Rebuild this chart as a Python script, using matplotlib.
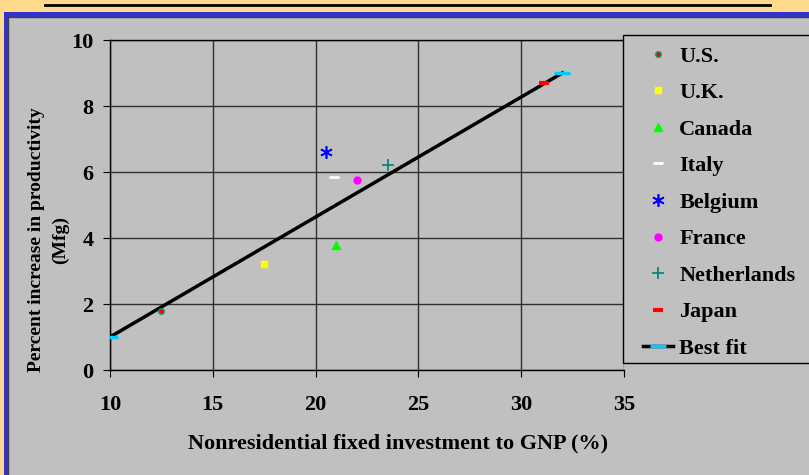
import numpy as np
import matplotlib.pyplot as plt
from matplotlib.patches import Rectangle
from matplotlib.lines import Line2D

# investment share (%) vs productivity growth (%), manufacturing
countries = ['U.S.', 'U.K.', 'Canada', 'Italy', 'Belgium', 'France', 'Netherlands', 'Japan']
invest = [12.5, 17.5, 21.0, 20.9, 20.5, 22.0, 23.5, 31.1]
productivity = [1.8, 3.2, 3.8, 5.85, 6.6, 5.75, 6.2, 8.7]

fit_x = [10.0, 32.0]
fit_y = [1.0, 9.0]

xticks = [10, 15, 20, 25, 30, 35]
yticks = [0, 2, 4, 6, 8, 10]

# marker style for each country: (marker, size, face, edge, edge width)
styles = [
    ('o', 4, '#FF0000', '#00A070', 1.0),
    ('s', 5, '#FFFF00', '#FFFF00', 1.0),
    ('^', 6, '#00FF00', '#00FF00', 1.0),
    ('_', 7, '#FFFFFF', '#FFFFFF', 2.0),
    ((6, 2, 0), 9, '#0000FF', '#0000FF', 1.2),
    ('o', 5, '#FF00FF', '#FF00FF', 1.0),
    ('+', 9, '#008080', '#008080', 1.2),
    ('_', 7, '#FF0000', '#FF0000', 3.0),
]

W, H = 809, 475
fig = plt.figure(figsize=(W / 100, H / 100), dpi=100)
fig.patch.set_facecolor('#C0C0C0')

def fx(px):
    return px / W

def fy(py):
    return 1 - py / H

# slide frame: orange band on top, blue border, black rule
fig.patches.append(Rectangle((0, fy(12)), 1, 12 / H, transform=fig.transFigure,
                             facecolor='#FFD98C', edgecolor='none', zorder=0))
fig.patches.append(Rectangle((0, 0), fx(4), fy(12), transform=fig.transFigure,
                             facecolor='#FFD98C', edgecolor='none', zorder=0))
fig.patches.append(Rectangle((fx(4), fy(17)), 1, 5 / H, transform=fig.transFigure,
                             facecolor='#3333CC', edgecolor='none', zorder=0))
fig.patches.append(Rectangle((fx(4), 0), 4 / W, fy(12), transform=fig.transFigure,
                             facecolor='#3333CC', edgecolor='none', zorder=0))
fig.lines.append(Line2D([fx(8), 1], [fy(17), fy(17)], transform=fig.transFigure,
                        color='#404040', lw=1))
fig.lines.append(Line2D([fx(8), fx(8)], [0, fy(17)], transform=fig.transFigure,
                        color='#404040', lw=1))
fig.lines.append(Line2D([fx(45), fx(770)], [fy(5), fy(5)], transform=fig.transFigure,
                        color='black', lw=2))

ax = fig.add_axes([fx(110), fy(370), fx(624) - fx(110), fy(40) - fy(370)])
ax.set_facecolor('#C0C0C0')

for c, x, y, st in zip(countries, invest, productivity, styles):
    m, s, fc, ec, mew = st
    ax.plot([x], [y], linestyle='none', marker=m, markersize=s,
            markerfacecolor=fc, markeredgecolor=ec, markeredgewidth=mew,
            label=c, zorder=4)

ax.plot(fit_x, fit_y, color='black', lw=2.5, marker='_', markersize=11,
        markeredgecolor='#00CCFF', markeredgewidth=2.5, label='Best fit', zorder=3)

ax.set_xlim(10, 35)
ax.set_ylim(0, 10)
ax.set_xticks(xticks)
ax.set_yticks(yticks)
ax.grid(True, color='#303030', lw=1)
ax.set_axisbelow(True)
ax.spines['right'].set_visible(False)
for side in ['left', 'bottom', 'top']:
    ax.spines[side].set_color('black')
    ax.spines[side].set_linewidth(1)

ax.tick_params(axis='x', length=5, pad=13, color='black')
ax.tick_params(axis='y', length=5, pad=7, color='black')
for lab in ax.get_xticklabels() + ax.get_yticklabels():
    lab.set_fontfamily('Liberation Serif')
    lab.set_fontweight('bold')
    lab.set_fontsize(16)

fig.text(fx(398), fy(443), 'Nonresidential fixed investment to GNP (%)',
         ha='center', va='center', family='Liberation Serif', weight='bold', size=16)
fig.text(fx(37), fy(240), 'Percent increase in productivity', rotation=90,
         ha='center', va='center', family='Liberation Serif', weight='bold', size=14)
fig.text(fx(60), fy(240), '(Mfg)', rotation=90,
         ha='center', va='center', family='Liberation Serif', weight='bold', size=14)

# legend box runs off the right edge
fig.patches.append(Rectangle((fx(623), fy(363)), fx(200), fy(35) - fy(363),
                             transform=fig.transFigure, facecolor='#C0C0C0',
                             edgecolor='black', lw=1, zorder=5))
leg = fig.legend(loc='upper left', bbox_to_anchor=(fx(643), fy(46)),
                 frameon=False, prop=dict(family='Liberation Serif', weight='bold', size=16),
                 handlelength=1.35, handletextpad=0.28, labelspacing=0.72,
                 borderaxespad=0, borderpad=0)
leg.set_zorder(6)

fig.savefig('out.png', dpi=100, facecolor=fig.get_facecolor())
